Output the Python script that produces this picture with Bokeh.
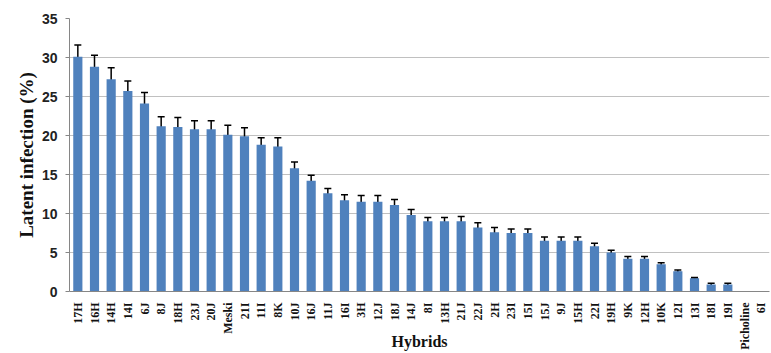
import math
from bokeh.plotting import figure
from bokeh.models import ColumnDataSource, Range1d, FixedTicker, Whisker, TeeHead
from bokeh.embed import file_html
from bokeh.resources import INLINE

hybrids = ["17H", "16H", "14H", "14I", "6J", "8J", "18H", "23J", "20J", "Meski",
           "21I", "11I", "8K", "10J", "16J", "11J", "16I", "3H", "12J", "18J",
           "14J", "8I", "13H", "21J", "22J", "2H", "23I", "15I", "15J", "9J",
           "15H", "22I", "19H", "9K", "12H", "10K", "12I", "13I", "18I", "19I",
           "Picholine", "6I"]
infection = [30.1, 28.8, 27.2, 25.7, 24.1, 21.2, 21.1, 20.8, 20.8, 20.1,
             19.9, 18.8, 18.6, 15.8, 14.2, 12.6, 11.7, 11.5, 11.5, 11.1,
             9.8, 9.0, 9.0, 9.0, 8.2, 7.6, 7.5, 7.5, 6.5, 6.5,
             6.5, 5.8, 5.0, 4.2, 4.2, 3.5, 2.6, 1.7, 0.9, 0.9,
             0.0, 0.0]
errors = [1.5, 1.5, 1.5, 1.3, 1.4, 1.2, 1.2, 1.1, 1.1, 1.2,
          1.1, 0.9, 1.1, 0.8, 0.7, 0.6, 0.7, 0.8, 0.8, 0.7,
          0.7, 0.5, 0.5, 0.6, 0.6, 0.6, 0.5, 0.5, 0.5, 0.5,
          0.5, 0.4, 0.3, 0.3, 0.3, 0.2, 0.15, 0.1, 0.15, 0.15,
          0.0, 0.0]
y_ticks = [0, 5, 10, 15, 20, 25, 30, 35]

xs = list(range(len(hybrids)))
src = ColumnDataSource(dict(x=xs, y=infection))
ex = [x for x, v in zip(xs, infection) if v > 0]
eu = [v + e for v, e in zip(infection, errors) if v > 0]
el = [v - e for v, e in zip(infection, errors) if v > 0]
esrc = ColumnDataSource(dict(x=ex, upper=eu, lower=el))

p = figure(width=770, height=352, output_backend="svg", toolbar_location=None,
           x_range=Range1d(-0.5, len(hybrids) - 0.5), y_range=Range1d(0, 35),
           min_border_left=69, min_border_right=1, min_border_top=18,
           min_border_bottom=60)
p.outline_line_color = None
p.background_fill_color = "white"

p.vbar(x="x", top="y", width=0.55, source=src, color="#4f81bd", line_color=None)

w = Whisker(base="x", upper="upper", lower="lower", source=esrc,
            line_color="black", line_width=1.5,
            upper_head=TeeHead(size=7, line_color="black", line_width=1.5),
            lower_head=TeeHead(size=7, line_color="black", line_width=1.5))
p.add_layout(w)

p.xgrid.grid_line_color = None
p.ygrid.grid_line_color = "#c0c0c0"
p.ygrid.grid_line_width = 1

p.yaxis.ticker = FixedTicker(ticks=y_ticks)
p.yaxis.minor_tick_line_color = None
p.yaxis.major_tick_line_color = "#868686"
p.yaxis.major_tick_out = 4
p.yaxis.major_tick_in = 0
p.yaxis.axis_line_color = "#868686"
p.yaxis.major_label_text_font = "Liberation Sans"
p.yaxis.major_label_text_font_size = "14px"
p.yaxis.major_label_text_font_style = "bold"
p.yaxis.major_label_text_color = "#222222"
p.yaxis.major_label_standoff = 8
p.yaxis.axis_label = "Latent infection (%)"
p.yaxis.axis_label_text_font = "Liberation Serif"
p.yaxis.axis_label_text_font_size = "19px"
p.yaxis.axis_label_text_font_style = "bold"
p.yaxis.axis_label_text_color = "#111111"
p.yaxis.axis_label_standoff = 2

p.xaxis.ticker = FixedTicker(ticks=xs)
p.xaxis.major_label_overrides = {i: h for i, h in enumerate(hybrids)}
p.xaxis.major_label_orientation = math.pi / 2
p.xaxis.major_label_text_font = "Liberation Serif"
p.xaxis.major_label_text_font_size = "12px"
p.xaxis.major_label_text_font_style = "bold"
p.xaxis.major_label_text_color = "#111111"
p.xaxis.major_tick_line_color = None
p.xaxis.minor_tick_line_color = None
p.xaxis.axis_line_color = "#868686"
p.xaxis.major_label_standoff = 5
p.xaxis.axis_label = "Hybrids"
p.xaxis.axis_label_text_font = "Liberation Serif"
p.xaxis.axis_label_text_font_size = "16px"
p.xaxis.axis_label_text_font_style = "bold"
p.xaxis.axis_label_text_color = "#111111"
p.xaxis.axis_label_standoff = -20

open("out.html", "w").write(file_html(p, INLINE))
